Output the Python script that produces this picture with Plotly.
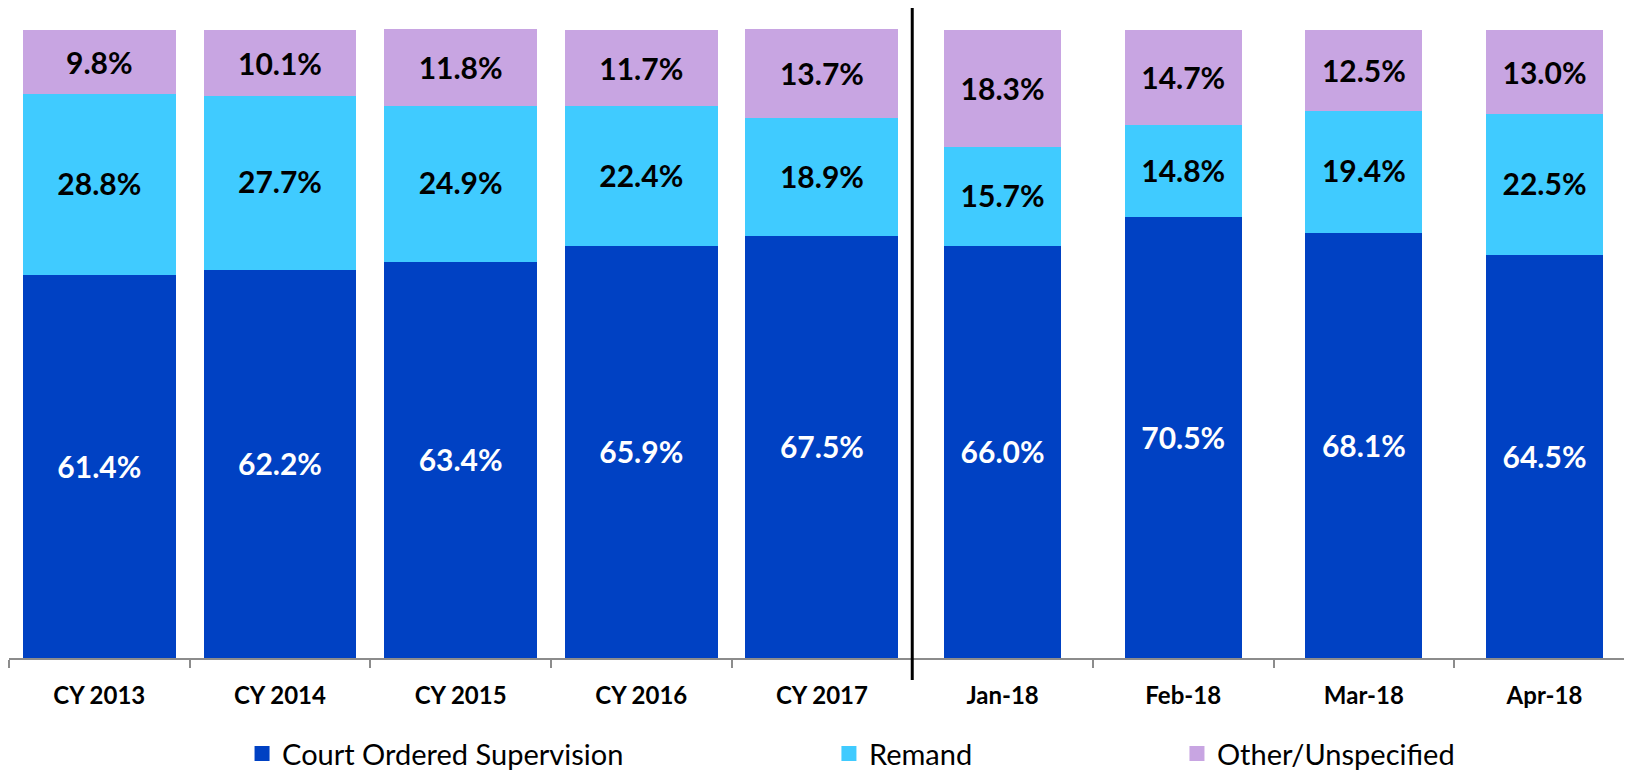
import plotly.graph_objects as go

categories = ["CY 2013", "CY 2014", "CY 2015", "CY 2016", "CY 2017",
              "Jan-18", "Feb-18", "Mar-18", "Apr-18"]
court_ordered = [61.4, 62.2, 63.4, 65.9, 67.5, 66.0, 70.5, 68.1, 64.5]
remand = [28.8, 27.7, 24.9, 22.4, 18.9, 15.7, 14.8, 19.4, 22.5]
other = [9.8, 10.1, 11.8, 11.7, 13.7, 18.3, 14.7, 12.5, 13.0]

series_names = ["Court Ordered Supervision", "Remand", "Other/Unspecified"]
series_colors = ["#0041C3", "#40CBFF", "#C8A5E2"]
label_colors = ["white", "black", "black"]

# annual bars are wider than monthly bars (minus the outline thickness)
bar_widths = [0.830] * 5 + [0.631] * 4

# page body has an 8px margin, so the figure is sized to fit inside the window
W, H = 1616, 762
ml, mr, mt, mb = 1, 0, 0, 112

fig = go.Figure()
legend_ids = ["legend", "legend2", "legend3"]
for vals, name, col, lcol, lg in zip([court_ordered, remand, other], series_names,
                                     series_colors, label_colors, legend_ids):
    fig.add_trace(go.Bar(
        x=categories, y=vals, name=name, width=bar_widths,
        marker=dict(color=col, line=dict(width=3, color=col)),
        texttemplate="%{y:.1f}%", textposition="inside", insidetextanchor="middle",
        textangle=0, constraintext="none",
        textfont=dict(family="Lato", size=30, color=lcol, weight="bold"),
        legend=lg, hoverinfo="skip",
    ))

legend_common = dict(orientation="h", yanchor="middle", y=-0.147, xanchor="left",
                     font=dict(family="Lato", size=29, color="black"),
                     bgcolor="rgba(0,0,0,0)", itemwidth=30)
fig.update_layout(
    width=W, height=H,
    margin=dict(l=ml, r=mr, t=mt, b=mb, autoexpand=False),
    paper_bgcolor="white", plot_bgcolor="white",
    barmode="stack",
    showlegend=True,
    legend=dict(x=0.1443, **legend_common),
    legend2=dict(x=0.5077, **legend_common),
    legend3=dict(x=0.7232, **legend_common),
    xaxis=dict(type="category", range=[-0.5, 8.44], tickson="boundaries",
               ticks="outside", ticklen=8, tickwidth=2, tickcolor="#8C8C8C",
               showline=True, linecolor="#8C8C8C", linewidth=2, showgrid=False,
               tickfont=dict(family="Lato", size=24, color="black", weight="bold"),
               ticklabelstandoff=15, automargin=False, zeroline=False),
    yaxis=dict(visible=False, range=[0, 103.67], showgrid=False, zeroline=False),
    shapes=[dict(type="line", xref="x", yref="paper", x0=4.5, x1=4.5,
                 y0=-0.034, y1=1.0, line=dict(color="black", width=3), layer="above")],
)

fig.write_html("out.html")
